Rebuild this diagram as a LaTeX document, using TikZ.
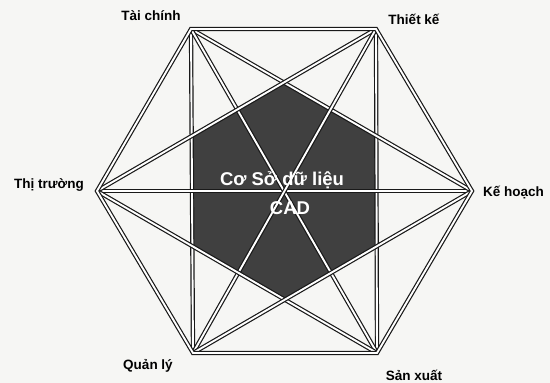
\documentclass[tikz,border=0pt]{standalone}
\usepackage{fontspec}
\setmainfont{Liberation Sans}
\definecolor{paper}{RGB}{246,246,244}
\definecolor{core}{RGB}{64,64,64}
\begin{document}
\begin{tikzpicture}[x=1pt,y=-1pt,
  link/.style={draw=black!90,line width=1.2pt,double=white,double distance=1.9pt},
  lbl/.style={font=\fontsize{13.5}{16}\selectfont\bfseries,inner sep=0pt,text=black},
  cad/.style={font=\fontsize{18.5}{22}\selectfont\bfseries,inner sep=0pt,text=white}]
\fill[paper] (0,0) rectangle (550,383);
\useasboundingbox (0,0) rectangle (550,383);
% vertices
\coordinate (TL) at (191,29);
\coordinate (TR) at (376,29);
\coordinate (R)  at (472,191);
\coordinate (BR) at (377,353);
\coordinate (BL) at (193,353);
\coordinate (L)  at (97,191);
% inner dark hexagon
\path (intersection of L--TR and TL--BL) coordinate (d1);
\path (intersection of L--TR and TL--R) coordinate (d2);
\path (intersection of TL--R and TR--BR) coordinate (d3);
\path (intersection of TR--BR and BL--R) coordinate (d4);
\path (intersection of BL--R and L--BR) coordinate (d5);
\path (intersection of L--BR and TL--BL) coordinate (d6);
\fill[core] (d1) -- (d2) -- (d3) -- (d4) -- (d5) -- (d6) -- cycle;
% diagonals
\draw[link] (TL) -- (BL);
\draw[link] (TR) -- (BR);
\draw[link] (L) -- (R);
\draw[link] (TL) -- (R);
\draw[link] (TL) -- (BR);
\draw[link] (TR) -- (L);
\draw[link] (TR) -- (BL);
\draw[link] (L) -- (BR);
\draw[link] (BL) -- (R);
% outer hexagon
\draw[link,line join=miter] (TL) -- (TR) -- (R) -- (BR) -- (BL) -- (L) -- cycle;
% labels
\node[lbl] (ntc) at (151,16) {Tài chính};
\node[lbl] (ntk) at (414,19) {Thiết kế};
\node[lbl] (ntt) at (49,185) {Thị trường};
\node[lbl,anchor=west] (nkh) at (483,193) {Kế hoạch};
\node[lbl] (nql) at (148,366) {Quản lý};
\node[lbl] (nsx) at (414,375) {Sản xuất};
\node[cad] (c1) at (282,180) {Cơ Sở dữ liệu};
\node[cad] (c2) at (290,208) {CAD};
\end{tikzpicture}
\end{document}
